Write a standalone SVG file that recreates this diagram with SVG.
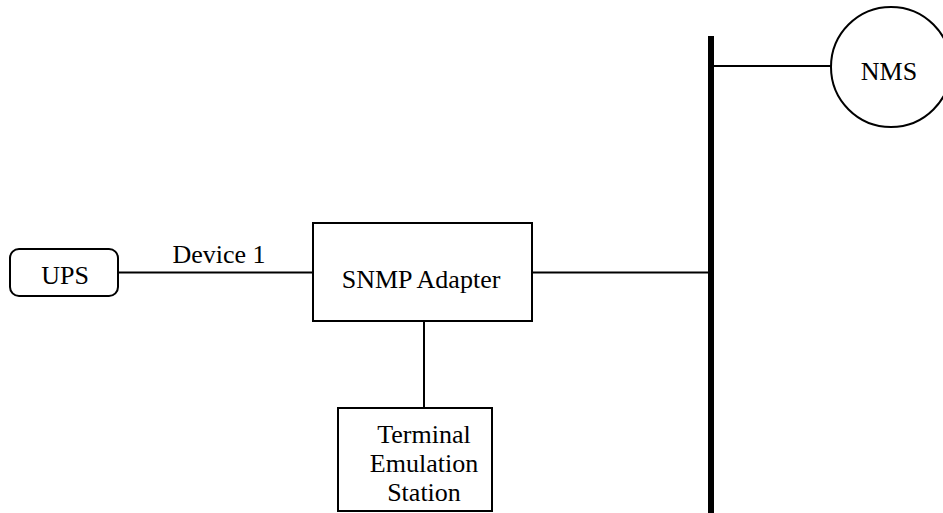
<svg xmlns="http://www.w3.org/2000/svg" width="943" height="513" viewBox="0 0 943 513">
<style>
.box{fill:#fff;stroke:#000;stroke-width:2}
.ln{stroke:#000;stroke-width:2;fill:none}
text{font-family:"Liberation Serif","Times New Roman",serif;font-size:26px;fill:#000;text-anchor:middle}
</style>
<rect width="943" height="513" fill="#fff"/>
<g id="connectors">
<line class="ln" x1="118" y1="272.5" x2="313" y2="272.5"/>
<line class="ln" x1="532" y1="272.5" x2="711" y2="272.5"/>
<line class="ln" x1="711" y1="66" x2="831" y2="66"/>
<line class="ln" x1="424" y1="318" x2="424" y2="408"/>
<line id="bus" x1="711" y1="36" x2="711" y2="513" stroke="#000" stroke-width="6"/>
<text x="219" y="263">Device 1</text>
</g>
<g id="ups">
<rect class="box" x="10" y="249" width="108" height="47" rx="9"/>
<text x="65" y="284">UPS</text>
</g>
<g id="snmp">
<rect class="box" x="313" y="223" width="219" height="98"/>
<text x="421" y="288">SNMP Adapter</text>
</g>
<g id="terminal">
<rect class="box" x="338" y="408" width="154" height="103"/>
<text x="424" y="443">Terminal</text>
<text x="424" y="472">Emulation</text>
<text x="424" y="501">Station</text>
</g>
<g id="nms">
<circle class="box" cx="891" cy="67" r="60"/>
<text x="889" y="80">NMS</text>
</g>
</svg>
